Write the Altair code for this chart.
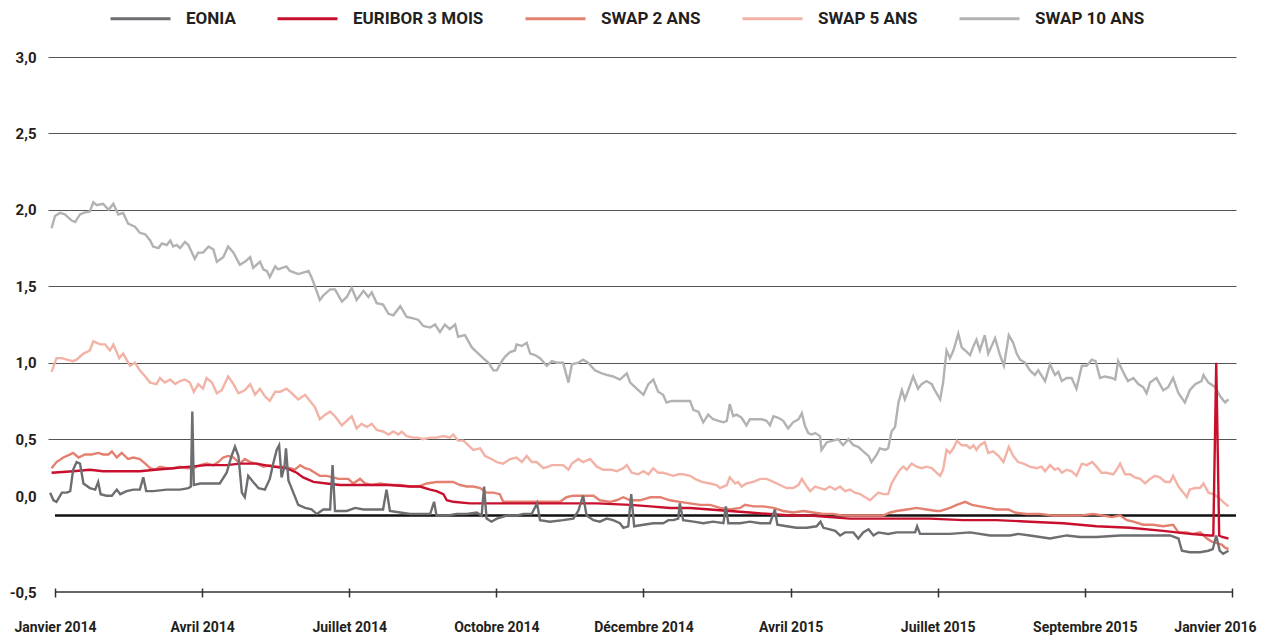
import altair as alt
import pandas as pd

FONT = "Roboto"

series_names = ["EONIA", "EURIBOR 3 MOIS", "SWAP 2 ANS", "SWAP 5 ANS", "SWAP 10 ANS"]
series_colors = ["#6d6e71", "#c8102e", "#e3806f", "#f2b3a6", "#b2b2b2"]
tick_months = [0, 3, 6, 9, 12, 15, 18, 21, 24]
tick_labels = ["Janvier 2014", "Avril 2014", "Juillet 2014", "Octobre 2014", "Décembre 2014",
               "Avril 2015", "Juillet 2015", "Septembre 2015", "Janvier 2016"]
y_ticks = [-0.5, 0.0, 0.5, 1.0, 1.5, 2.0, 2.5, 3.0]

# x = months since January 2014, y = rate in %
swap10_m = [-0.07, 0.00, 0.10, 0.20, 0.34, 0.41, 0.51, 0.58, 0.71, 0.78, 0.85, 0.98, 1.09, 1.19, 1.29, 1.39, 1.49, 1.63, 1.73, 1.84,
            1.94, 2.00, 2.11, 2.18, 2.28, 2.35, 2.41, 2.48, 2.55, 2.65, 2.72, 2.85, 2.92, 3.02, 3.13, 3.23, 3.30, 3.43, 3.53, 3.64,
            3.77, 3.87, 3.98, 4.04, 4.18, 4.25, 4.32, 4.38, 4.49, 4.55, 4.72, 4.79, 4.96, 5.06, 5.17, 5.23, 5.30, 5.40, 5.47, 5.61,
            5.71, 5.85, 5.95, 6.05, 6.15, 6.29, 6.39, 6.46, 6.56, 6.69, 6.80, 6.90, 7.04, 7.17, 7.31, 7.41, 7.51, 7.65, 7.75, 7.85,
            7.95, 8.05, 8.16, 8.22, 8.36, 8.50, 8.60, 8.73, 8.84, 8.94, 9.01, 9.11, 9.18, 9.28, 9.38, 9.41, 9.52, 9.62, 9.69, 9.79,
            9.89, 10.03, 10.13, 10.23, 10.36, 10.47, 10.54, 10.67, 10.77, 10.87, 11.01, 11.15, 11.25, 11.38, 11.52, 11.66, 11.73, 11.86, 12.00, 12.10,
            12.20, 12.30, 12.40, 12.47, 12.58, 12.68, 12.74, 12.85, 12.95, 13.02, 13.12, 13.22, 13.32, 13.42, 13.53, 13.63, 13.70, 13.76, 13.83, 13.90,
            14.00, 14.10, 14.17, 14.27, 14.41, 14.51, 14.58, 14.65, 14.75, 14.85, 14.95, 15.05, 15.16, 15.23, 15.29, 15.36, 15.43, 15.50, 15.60, 15.63,
            15.74, 15.87, 15.97, 16.07, 16.18, 16.28, 16.38, 16.48, 16.59, 16.65, 16.76, 16.82, 16.93, 16.99, 17.06, 17.13, 17.20, 17.27, 17.33, 17.40,
            17.50, 17.60, 17.67, 17.77, 17.88, 17.94, 18.05, 18.11, 18.18, 18.25, 18.32, 18.42, 18.49, 18.56, 18.66, 18.73, 18.79, 18.86, 18.96, 19.03,
            19.10, 19.17, 19.27, 19.35, 19.45, 19.54, 19.61, 19.68, 19.78, 19.88, 19.98, 20.05, 20.19, 20.29, 20.39, 20.46, 20.53, 20.63, 20.73, 20.83,
            20.94, 21.04, 21.14, 21.22, 21.31, 21.41, 21.55, 21.62, 21.68, 21.78, 21.88, 21.99, 22.09, 22.19, 22.26, 22.33, 22.46, 22.53, 22.60, 22.70,
            22.80, 22.91, 23.04, 23.14, 23.25, 23.38, 23.42, 23.52, 23.66, 23.76, 23.86, 23.93]
swap10_v = [1.88, 1.96, 1.98, 1.97, 1.93, 1.92, 1.97, 1.98, 1.99, 2.05, 2.03, 2.04, 2.00, 2.04, 1.97, 1.98, 1.91, 1.89, 1.85, 1.84,
            1.80, 1.76, 1.75, 1.78, 1.77, 1.80, 1.76, 1.77, 1.75, 1.79, 1.77, 1.68, 1.72, 1.72, 1.76, 1.74, 1.66, 1.69, 1.76, 1.72,
            1.64, 1.66, 1.69, 1.62, 1.66, 1.61, 1.60, 1.56, 1.63, 1.61, 1.63, 1.60, 1.58, 1.59, 1.60, 1.56, 1.50, 1.41, 1.44, 1.48,
            1.48, 1.40, 1.43, 1.49, 1.41, 1.47, 1.43, 1.46, 1.39, 1.38, 1.32, 1.31, 1.37, 1.30, 1.29, 1.28, 1.24, 1.23, 1.25, 1.20,
            1.25, 1.22, 1.25, 1.17, 1.18, 1.10, 1.07, 1.03, 1.00, 0.95, 0.95, 1.01, 1.04, 1.07, 1.08, 1.12, 1.11, 1.13, 1.06, 1.05,
            1.03, 0.98, 1.01, 1.00, 1.00, 0.87, 0.99, 1.00, 1.02, 1.00, 0.95, 0.93, 0.92, 0.91, 0.89, 0.93, 0.87, 0.83, 0.79, 0.86,
            0.89, 0.81, 0.79, 0.74, 0.75, 0.75, 0.75, 0.75, 0.75, 0.69, 0.68, 0.61, 0.66, 0.63, 0.62, 0.61, 0.62, 0.73, 0.65, 0.66,
            0.64, 0.59, 0.63, 0.63, 0.63, 0.62, 0.59, 0.65, 0.64, 0.62, 0.57, 0.61, 0.63, 0.67, 0.59, 0.54, 0.53, 0.54, 0.52, 0.43,
            0.48, 0.49, 0.50, 0.46, 0.50, 0.46, 0.45, 0.42, 0.39, 0.35, 0.40, 0.44, 0.43, 0.44, 0.55, 0.58, 0.74, 0.82, 0.76, 0.82,
            0.91, 0.83, 0.86, 0.88, 0.86, 0.82, 0.76, 0.87, 1.08, 1.03, 1.08, 1.19, 1.10, 1.08, 1.05, 1.11, 1.15, 1.08, 1.18, 1.06,
            1.11, 1.16, 1.05, 0.98, 1.18, 1.13, 1.06, 1.02, 1.00, 0.95, 0.92, 0.95, 0.88, 0.99, 0.92, 0.94, 0.88, 0.90, 0.90, 0.83,
            0.98, 0.98, 1.02, 1.01, 0.90, 0.91, 0.90, 0.89, 1.01, 0.94, 0.88, 0.90, 0.86, 0.84, 0.80, 0.87, 0.90, 0.86, 0.82, 0.84,
            0.90, 0.80, 0.74, 0.82, 0.86, 0.88, 0.92, 0.87, 0.84, 0.78, 0.74, 0.76]

swap5_m = [-0.07, 0.03, 0.14, 0.24, 0.37, 0.44, 0.58, 0.71, 0.78, 0.92, 1.02, 1.12, 1.19, 1.31, 1.39, 1.53, 1.63, 1.73, 1.84, 1.94,
           2.07, 2.14, 2.24, 2.35, 2.45, 2.55, 2.65, 2.75, 2.83, 2.92, 3.02, 3.09, 3.20, 3.30, 3.40, 3.53, 3.64, 3.74, 3.87, 3.98,
           4.08, 4.18, 4.28, 4.38, 4.49, 4.59, 4.72, 4.83, 4.96, 5.10, 5.20, 5.30, 5.40, 5.51, 5.61, 5.71, 5.85, 5.98, 6.05, 6.15,
           6.25, 6.36, 6.46, 6.56, 6.69, 6.80, 6.90, 7.00, 7.07, 7.17, 7.31, 7.41, 7.51, 7.65, 7.78, 7.92, 8.05, 8.12, 8.22, 8.33,
           8.43, 8.53, 8.67, 8.77, 8.90, 9.01, 9.14, 9.28, 9.41, 9.52, 9.62, 9.72, 9.82, 9.96, 10.06, 10.13, 10.23, 10.36, 10.47, 10.54,
           10.67, 10.77, 10.91, 11.05, 11.18, 11.35, 11.45, 11.59, 11.66, 11.76, 11.89, 12.00, 12.10, 12.20, 12.30, 12.40, 12.51, 12.61, 12.71, 12.81,
           12.95, 13.05, 13.19, 13.36, 13.49, 13.56, 13.70, 13.76, 13.87, 13.93, 14.00, 14.10, 14.24, 14.38, 14.51, 14.65, 14.78, 14.92, 15.05, 15.16,
           15.23, 15.33, 15.40, 15.50, 15.60, 15.70, 15.80, 15.91, 16.01, 16.11, 16.21, 16.31, 16.42, 16.52, 16.62, 16.72, 16.79, 16.89, 16.99, 17.06,
           17.13, 17.23, 17.30, 17.37, 17.47, 17.57, 17.67, 17.77, 17.88, 17.98, 18.05, 18.11, 18.18, 18.25, 18.32, 18.39, 18.49, 18.59, 18.66, 18.73,
           18.79, 18.86, 18.96, 19.03, 19.13, 19.24, 19.34, 19.45, 19.54, 19.64, 19.75, 19.88, 20.02, 20.12, 20.19, 20.29, 20.39, 20.46, 20.53, 20.63,
           20.73, 20.83, 20.94, 21.04, 21.15, 21.24, 21.34, 21.44, 21.58, 21.65, 21.72, 21.82, 21.92, 22.02, 22.13, 22.23, 22.33, 22.43, 22.53, 22.64,
           22.74, 22.80, 22.91, 23.01, 23.08, 23.14, 23.25, 23.35, 23.42, 23.52, 23.62, 23.72, 23.82, 23.93]
swap5_v = [0.94, 1.03, 1.03, 1.02, 1.01, 1.02, 1.06, 1.08, 1.14, 1.12, 1.12, 1.08, 1.12, 1.03, 1.06, 0.98, 1.00, 0.95, 0.91, 0.87,
           0.86, 0.90, 0.87, 0.89, 0.86, 0.88, 0.89, 0.87, 0.81, 0.86, 0.83, 0.90, 0.87, 0.80, 0.82, 0.91, 0.86, 0.80, 0.82, 0.86,
           0.79, 0.83, 0.78, 0.75, 0.81, 0.81, 0.83, 0.80, 0.76, 0.79, 0.75, 0.71, 0.63, 0.66, 0.68, 0.65, 0.59, 0.63, 0.65, 0.57,
           0.60, 0.58, 0.60, 0.56, 0.55, 0.53, 0.55, 0.53, 0.55, 0.52, 0.51, 0.51, 0.50, 0.51, 0.51, 0.52, 0.51, 0.53, 0.49, 0.49,
           0.46, 0.43, 0.44, 0.39, 0.37, 0.35, 0.34, 0.37, 0.38, 0.35, 0.39, 0.35, 0.35, 0.31, 0.32, 0.33, 0.33, 0.33, 0.30, 0.34,
           0.37, 0.35, 0.37, 0.32, 0.30, 0.30, 0.29, 0.31, 0.33, 0.28, 0.27, 0.29, 0.27, 0.31, 0.28, 0.28, 0.27, 0.26, 0.27, 0.27,
           0.26, 0.24, 0.22, 0.21, 0.20, 0.18, 0.20, 0.25, 0.21, 0.22, 0.19, 0.21, 0.22, 0.24, 0.24, 0.22, 0.20, 0.18, 0.18, 0.20,
           0.24, 0.19, 0.16, 0.19, 0.18, 0.17, 0.19, 0.17, 0.19, 0.16, 0.17, 0.15, 0.14, 0.12, 0.10, 0.13, 0.15, 0.14, 0.14, 0.21,
           0.25, 0.30, 0.32, 0.30, 0.34, 0.32, 0.31, 0.32, 0.31, 0.28, 0.26, 0.30, 0.43, 0.41, 0.44, 0.49, 0.46, 0.46, 0.44, 0.46,
           0.43, 0.46, 0.48, 0.41, 0.42, 0.39, 0.35, 0.45, 0.39, 0.35, 0.34, 0.32, 0.31, 0.32, 0.29, 0.33, 0.30, 0.31, 0.28, 0.30,
           0.29, 0.26, 0.34, 0.33, 0.35, 0.32, 0.28, 0.28, 0.27, 0.30, 0.34, 0.27, 0.27, 0.25, 0.24, 0.21, 0.24, 0.26, 0.25, 0.22,
           0.22, 0.26, 0.19, 0.15, 0.12, 0.17, 0.18, 0.18, 0.21, 0.15, 0.14, 0.12, 0.09, 0.06]

swap2_m = [-0.07, 0.03, 0.17, 0.31, 0.37, 0.48, 0.61, 0.75, 0.88, 0.98, 1.09, 1.16, 1.26, 1.36, 1.49, 1.60, 1.73, 1.84, 1.94, 2.04,
           2.14, 2.28, 2.41, 2.55, 2.69, 2.82, 2.96, 3.09, 3.23, 3.33, 3.43, 3.53, 3.64, 3.77, 3.87, 3.98, 4.11, 4.25, 4.38, 4.52,
           4.66, 4.79, 4.89, 5.00, 5.10, 5.20, 5.30, 5.40, 5.54, 5.67, 5.78, 5.88, 5.98, 6.08, 6.22, 6.32, 6.46, 6.63, 6.83, 7.04,
           7.24, 7.41, 7.58, 7.78, 7.95, 8.12, 8.26, 8.40, 8.53, 8.67, 8.80, 8.94, 9.07, 9.14, 9.28, 9.48, 9.69, 9.89, 10.09, 10.30,
           10.43, 10.57, 10.77, 10.98, 11.11, 11.32, 11.45, 11.59, 11.73, 11.93, 12.14, 12.34, 12.54, 12.74, 12.95, 13.15, 13.36, 13.56, 13.76, 13.97,
           14.07, 14.24, 14.44, 14.65, 14.85, 15.05, 15.26, 15.46, 15.67, 15.87, 16.07, 16.28, 16.48, 16.69, 16.89, 17.03, 17.16, 17.37, 17.57, 17.77,
           17.98, 18.05, 18.25, 18.39, 18.56, 18.70, 18.86, 19.03, 19.20, 19.44, 19.58, 19.81, 20.09, 20.36, 20.63, 20.90, 21.17, 21.38, 21.55, 21.72,
           21.86, 21.99, 22.19, 22.39, 22.60, 22.80, 22.91, 23.08, 23.21, 23.35, 23.49, 23.59, 23.69, 23.79, 23.86, 23.93]
swap2_v = [0.31, 0.35, 0.38, 0.40, 0.41, 0.38, 0.40, 0.40, 0.41, 0.40, 0.40, 0.42, 0.38, 0.41, 0.37, 0.38, 0.37, 0.34, 0.31, 0.30,
           0.32, 0.31, 0.31, 0.32, 0.31, 0.31, 0.33, 0.34, 0.33, 0.35, 0.38, 0.39, 0.38, 0.34, 0.37, 0.35, 0.34, 0.32, 0.33, 0.32,
           0.32, 0.31, 0.30, 0.33, 0.31, 0.30, 0.28, 0.26, 0.26, 0.25, 0.24, 0.24, 0.24, 0.21, 0.24, 0.21, 0.20, 0.21, 0.20, 0.20,
           0.19, 0.19, 0.21, 0.22, 0.22, 0.22, 0.20, 0.19, 0.19, 0.18, 0.15, 0.15, 0.14, 0.09, 0.09, 0.09, 0.09, 0.09, 0.09, 0.09,
           0.12, 0.13, 0.13, 0.13, 0.10, 0.09, 0.10, 0.12, 0.10, 0.10, 0.12, 0.12, 0.10, 0.09, 0.08, 0.07, 0.07, 0.05, 0.04, 0.05,
           0.07, 0.06, 0.06, 0.05, 0.03, 0.02, 0.03, 0.02, 0.01, 0.01, 0.00, 0.00, 0.00, 0.00, 0.00, 0.02, 0.03, 0.04, 0.05, 0.04,
           0.03, 0.03, 0.05, 0.07, 0.09, 0.07, 0.06, 0.05, 0.04, 0.04, 0.02, 0.01, 0.01, 0.00, 0.00, 0.00, 0.01, 0.00, -0.01, 0.00,
           -0.03, -0.04, -0.06, -0.06, -0.07, -0.06, -0.11, -0.11, -0.12, -0.11, -0.15, -0.17, -0.18, -0.19, -0.21, -0.22]

euribor_m = [-0.07, 0.37, 0.71, 0.98, 1.39, 1.73, 2.04, 2.41, 2.75, 3.09, 3.50, 3.77, 4.11, 4.45, 4.72, 4.93, 5.06, 5.27, 5.54, 5.81,
             6.02, 6.42, 6.83, 7.24, 7.44, 7.65, 7.78, 7.92, 7.99, 8.12, 8.46, 9.01, 9.69, 10.36, 11.05, 11.73, 12.14, 12.54, 12.95, 13.36,
             13.76, 14.17, 14.58, 14.99, 15.40, 15.80, 16.21, 16.62, 17.03, 17.43, 17.84, 18.52, 19.20, 19.88, 20.56, 21.24, 21.92, 22.60, 23.14, 23.55,
             23.62, 23.68, 23.74, 23.80, 23.93]
euribor_v = [0.28, 0.29, 0.30, 0.29, 0.29, 0.29, 0.30, 0.31, 0.32, 0.33, 0.33, 0.34, 0.34, 0.32, 0.31, 0.28, 0.25, 0.22, 0.21, 0.20,
             0.20, 0.20, 0.20, 0.19, 0.19, 0.17, 0.16, 0.14, 0.10, 0.09, 0.08, 0.08, 0.08, 0.08, 0.08, 0.07, 0.06, 0.05, 0.05, 0.04,
             0.03, 0.02, 0.01, 0.00, 0.00, -0.01, -0.02, -0.02, -0.02, -0.02, -0.02, -0.03, -0.03, -0.04, -0.05, -0.07, -0.08, -0.10, -0.12, -0.13,
             -0.13, 1.00, -0.13, -0.14, -0.15]

eonia_m = [-0.10, -0.03, 0.03, 0.14, 0.24, 0.31, 0.37, 0.44, 0.51, 0.58, 0.71, 0.82, 0.88, 0.93, 1.05, 1.16, 1.26, 1.33, 1.46, 1.60,
           1.73, 1.80, 1.86, 2.00, 2.28, 2.55, 2.72, 2.77, 2.80, 2.83, 2.96, 3.16, 3.36, 3.50, 3.60, 3.67, 3.74, 3.81, 3.87, 3.94,
           4.04, 4.15, 4.28, 4.38, 4.45, 4.52, 4.57, 4.62, 4.68, 4.71, 4.76, 4.86, 4.96, 5.10, 5.23, 5.34, 5.47, 5.61, 5.66, 5.71,
           5.95, 6.12, 6.29, 6.49, 6.69, 6.76, 6.83, 7.04, 7.24, 7.44, 7.65, 7.73, 7.78, 7.99, 8.19, 8.40, 8.60, 8.70, 8.75, 8.80,
           8.90, 9.01, 9.21, 9.41, 9.55, 9.72, 9.83, 9.89, 10.09, 10.36, 10.57, 10.67, 10.77, 10.84, 10.98, 11.11, 11.25, 11.38, 11.52, 11.59,
           11.69, 11.75, 11.81, 12.00, 12.20, 12.40, 12.51, 12.61, 12.71, 12.74, 12.81, 13.02, 13.22, 13.42, 13.63, 13.68, 13.73, 13.97, 14.17, 14.38,
           14.58, 14.68, 14.73, 14.92, 15.12, 15.33, 15.53, 15.61, 15.67, 15.80, 15.91, 16.01, 16.11, 16.28, 16.38, 16.48, 16.59, 16.69, 16.79, 16.99,
           17.16, 17.37, 17.54, 17.58, 17.64, 17.84, 18.25, 18.66, 19.07, 19.47, 19.64, 19.88, 20.29, 20.63, 20.90, 21.24, 21.72, 22.06, 22.46, 22.74,
           22.91, 22.98, 23.14, 23.35, 23.52, 23.61, 23.68, 23.75, 23.82, 23.93]
eonia_v = [0.15, 0.10, 0.09, 0.15, 0.15, 0.16, 0.30, 0.35, 0.34, 0.21, 0.18, 0.17, 0.22, 0.14, 0.13, 0.13, 0.17, 0.14, 0.16, 0.17,
           0.17, 0.25, 0.16, 0.16, 0.17, 0.17, 0.18, 0.19, 0.68, 0.20, 0.21, 0.21, 0.21, 0.28, 0.39, 0.45, 0.39, 0.15, 0.12, 0.26,
           0.22, 0.18, 0.17, 0.24, 0.34, 0.43, 0.46, 0.25, 0.32, 0.44, 0.23, 0.15, 0.07, 0.05, 0.04, 0.01, 0.04, 0.04, 0.33, 0.03,
           0.03, 0.05, 0.04, 0.04, 0.04, 0.17, 0.03, 0.02, 0.01, 0.01, 0.01, 0.09, 0.00, 0.00, 0.01, 0.01, 0.02, 0.00, 0.19, -0.02,
           -0.04, -0.02, 0.00, 0.00, 0.01, 0.01, 0.08, -0.03, -0.04, -0.03, -0.02, 0.03, 0.13, 0.00, -0.03, -0.04, -0.02, -0.03, -0.05, -0.08,
           -0.07, 0.14, -0.07, -0.06, -0.05, -0.05, -0.03, -0.03, -0.02, 0.08, -0.03, -0.04, -0.05, -0.04, -0.05, 0.06, -0.05, -0.05, -0.04, -0.05,
           -0.05, 0.04, -0.06, -0.07, -0.08, -0.08, -0.07, -0.04, -0.08, -0.09, -0.10, -0.13, -0.11, -0.11, -0.15, -0.11, -0.09, -0.13, -0.11, -0.12,
           -0.11, -0.11, -0.11, -0.07, -0.12, -0.12, -0.12, -0.11, -0.13, -0.13, -0.12, -0.13, -0.15, -0.13, -0.14, -0.14, -0.13, -0.13, -0.13, -0.13,
           -0.15, -0.23, -0.24, -0.24, -0.23, -0.22, -0.13, -0.23, -0.25, -0.23]

series_data = {
    "EONIA": (eonia_m, eonia_v),
    "EURIBOR 3 MOIS": (euribor_m, euribor_v),
    "SWAP 2 ANS": (swap2_m, swap2_v),
    "SWAP 5 ANS": (swap5_m, swap5_v),
    "SWAP 10 ANS": (swap10_m, swap10_v),
}

rows = []
for name, (ms, vs) in series_data.items():
    for m, v in zip(ms, vs):
        rows.append({"serie": name, "mois": m, "taux": v})
df = pd.DataFrame(rows)

X_DOMAIN = [-0.143, 24.083]
labels_js = "[" + ",".join("'" + t + "'" for t in tick_labels) + "]"

x_enc = alt.X(
    "mois:Q",
    title=None,
    scale=alt.Scale(domain=X_DOMAIN, nice=False, zero=False),
    axis=alt.Axis(
        values=tick_months,
        labelExpr=labels_js + "[round(datum.value / 3)]",
        domain=False,
        grid=False,
        ticks=True,
        tickSize=9,
        tickWidth=1.5,
        tickColor="#333333",
        offset=-4,
        labelFont=FONT,
        labelFontSize=14,
        labelFontWeight="bold",
        labelColor="#231f20",
        labelPadding=23,
        labelFlush=False,
        labelOverlap=False,
        labelOffset=alt.condition(
            "datum.value == 24", alt.value(-17),
            alt.value(0),
        ),
    ),
)
y_enc = alt.Y(
    "taux:Q",
    title=None,
    scale=alt.Scale(domain=[-0.5, 3.0], nice=False, zero=False),
    axis=alt.Axis(
        values=y_ticks,
        labelExpr="(datum.value < 0 ? '-' : '') + replace(format(abs(datum.value), '.1f'), '.', ',')",
        domain=False,
        ticks=False,
        gridColor="#555555",
        gridWidth=1,
        gridOpacity=alt.condition("datum.value <= 0", alt.value(0), alt.value(1)),
        labelOffset=alt.condition("datum.value == 0", alt.value(-19), alt.value(0)),
        labelFont=FONT,
        labelFontSize=15,
        labelFontWeight="bold",
        labelColor="#231f20",
        labelPadding=12,
    ),
)

color_enc = alt.Color(
    "serie:N",
    scale=alt.Scale(domain=series_names, range=series_colors),
    legend=alt.Legend(
        title=None,
        orient="none",
        direction="horizontal",
        legendX=61,
        legendY=-70,
        symbolType="stroke",
        symbolSize=3600,
        symbolStrokeWidth=3,
        labelFont=FONT,
        labelFontSize=17,
        labelFontWeight="bold",
        labelColor="#231f20",
        labelOffset=14,
        columnPadding=35,
        padding=0,
    ),
)

base = alt.Chart(df)

zero_df = pd.DataFrame({"mois": [0.0], "fin": [X_DOMAIN[1]], "taux": [0.0]})
axis_df = pd.DataFrame({"mois": [0.0], "fin": [24.0], "taux": [-0.5]})

frame = alt.Chart(axis_df).mark_rule(color="#333333", strokeWidth=1.5).encode(
    x=x_enc, x2="fin:Q", y=y_enc
)
zero_line = alt.Chart(zero_df).mark_rule(color="#111111", strokeWidth=2.5).encode(
    x="mois:Q", x2="fin:Q", y="taux:Q"
)

draw_order = ["SWAP 10 ANS", "SWAP 5 ANS", "SWAP 2 ANS", "EURIBOR 3 MOIS", "EONIA"]
lines = [
    base.transform_filter(alt.datum.serie == name)
    .mark_line(strokeWidth=2.4, interpolate="linear")
    .encode(x="mois:Q", y="taux:Q", color=color_enc)
    for name in draw_order
]

chart = alt.layer(frame, zero_line, *lines).properties(
    width=1188,
    height=535,
    autosize=alt.AutoSizeParams(type="none"),
    padding={"left": 40, "top": 49, "right": 33, "bottom": 44},
).configure_view(stroke=None)

chart.save("out.html", embed_options={"renderer": "svg", "actions": False})
